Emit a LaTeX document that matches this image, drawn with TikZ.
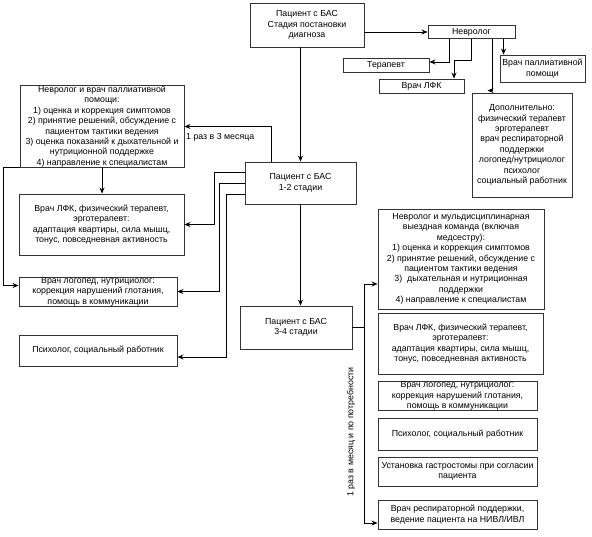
\documentclass[tikz,border=0pt]{standalone}
\usepackage{fontspec}
\setmainfont{Liberation Sans}
\usetikzlibrary{arrows.meta,calc}
\begin{document}
\begin{tikzpicture}[x=1pt,y=-1pt,
  box/.style={draw=black!80, line width=0.9pt, fill=white, align=center, inner sep=0pt,
    font=\fontsize{8.8}{10.4}\selectfont},
  lbl/.style={font=\fontsize{8.8}{10.4}\selectfont, inner sep=0pt},
  arr/.style={draw=black, line width=0.8pt, -{Stealth[length=6pt,width=5pt,inset=2pt]}},
  ln/.style={draw=black, line width=0.8pt}]
\useasboundingbox (0,0) rectangle (592,536);

% top
\node[box, minimum width=114, minimum height=44] (top) at (307,25) {Пациент с БАС\\Стадия постановки\\диагноза};
\node[box, minimum width=87, minimum height=13] (nevr) at (471.5,32) {Невролог};
\node[box, minimum width=86, minimum height=14] (ter) at (386,65) {Терапевт};
\node[box, minimum width=85, minimum height=14] (lfk) at (421.5,86) {Врач ЛФК};
\node[box, minimum width=85, minimum height=27] (pal) at (542.5,68.5) {Врач паллиативной\\помощи};
\node[box, minimum width=100, minimum height=104] (dop) at (522,145) {Дополнительно:\\физический терапевт\\эрготерапевт\\врач респираторной\\поддержки\\логопед/нутрициолог\\психолог\\социальный работник};

% stage 1-2
\node[box, minimum width=164, minimum height=81] (ltop) at (102,126.5) {Невролог и врач паллиативной\\помощи:\\1) оценка и коррекция симптомов\\2) принятие решений, обсуждение с\\пациентом тактики ведения\\3) оценка показаний к дыхательной и\\нутриционной поддержке\\4) направление к специалистам};
\node[box, minimum width=111, minimum height=42] (s12) at (300.5,183) {Пациент с БАС\\1-2 стадии};
\node[box, minimum width=165, minimum height=61] (llfk) at (101.5,224.5) {Врач ЛФК, физический терапевт,\\эрготерапевт:\\адаптация квартиры, сила мышц,\\тонус, повседневная активность};
\node[box, minimum width=158, minimum height=29] (llog) at (98,291.5) {Врач логопед, нутрициолог:\\коррекция нарушений глотания,\\помощь в коммуникации};
\node[box, minimum width=158, minimum height=31] (lpsy) at (98,350.5) {Психолог, социальный работник};

% stage 3-4
\node[box, minimum width=112, minimum height=43] (s34) at (296,327.5) {Пациент с БАС\\3-4 стадии};
\node[box, minimum width=166, minimum height=100] (rmul) at (461,259) {Невролог и мульдисциплинарная\\выездная команда (включая\\медсестру):\\1) оценка и коррекция симптомов\\2) принятие решений, обсуждение с\\пациентом тактики ведения\\3)\ \ дыхательная и нутриционная\\поддержки\\4) направление к специалистам};
\node[box, minimum width=165, minimum height=61] (rlfk) at (460.5,343.5) {Врач ЛФК, физический терапевт,\\эрготерапевт:\\адаптация квартиры, сила мышц,\\тонус, повседневная активность};
\node[box, minimum width=159, minimum height=28] (rlog) at (457.5,396) {Врач логопед, нутрициолог:\\коррекция нарушений глотания,\\помощь в коммуникации};
\node[box, minimum width=159, minimum height=32] (rpsy) at (457.5,434) {Психолог, социальный работник};
\node[box, minimum width=159, minimum height=29] (rgas) at (457.5,471.5) {Установка гастростомы при согласии\\пациента};
\node[box, minimum width=159, minimum height=29] (rres) at (457.5,514.5) {Врач респираторной поддержки,\\ведение пациента на НИВЛ/ИВЛ};

% labels
\node[lbl, anchor=north west] (lab1) at (186,133) {1 раз в 3 месяца};
\node[lbl, rotate=90] (lab2) at (351,432) {1 раз в месяц и по потребности};

% connectors: top part
\draw[arr] (top.east |- nevr.west) -- (nevr.west);
\draw[arr] ($(nevr.south west)+(22,0)$) |- ($(ter.east)+(0,-3)$);
\draw[arr] (nevr.south) -- ++(0,21) -| ($(lfk.north)+(32.5,0)$);
\draw[arr] ($(nevr.south west)+(65,0)$) |- ($(dop.north west)+(16,-2)$);
\coordinate (palin) at ($(pal.north west)+(4,0)$);
\draw[arr] (palin |- nevr.south) -- (palin);
\draw[arr] (s12.north |- top.south) -- (s12.north);

% stage 1-2 connectors
\draw[arr] ($(s12.north west)+(27,0)$) |- (ltop.east);
\draw[arr] (ltop.south) -- (ltop.south |- llfk.north);
\draw[arr] (ltop.south west) -- ++(-16,0) |- ($(llog.west)+(0,-6)$);
\draw[arr] ($(s12.west)+(0,-11)$) -- ++(-30,0) |- (llfk.east);
\draw[arr] (s12.west) -- ++(-25,0) |- (llog.east);
\draw[arr] ($(s12.west)+(0,11)$) -- ++(-18,0) |- ($(lpsy.east)+(0,6.5)$);
\draw[arr] (s12.south) -- (s12.south |- s34.north);

% stage 3-4 connectors
\draw[arr] (s34.east) -- ++(12,0) |- ($(rmul.west)+(0,25)$);
\draw[arr] (s34.east) -- ++(12,0) |- ($(rres.west)+(0,8.5)$);
\end{tikzpicture}
\end{document}
